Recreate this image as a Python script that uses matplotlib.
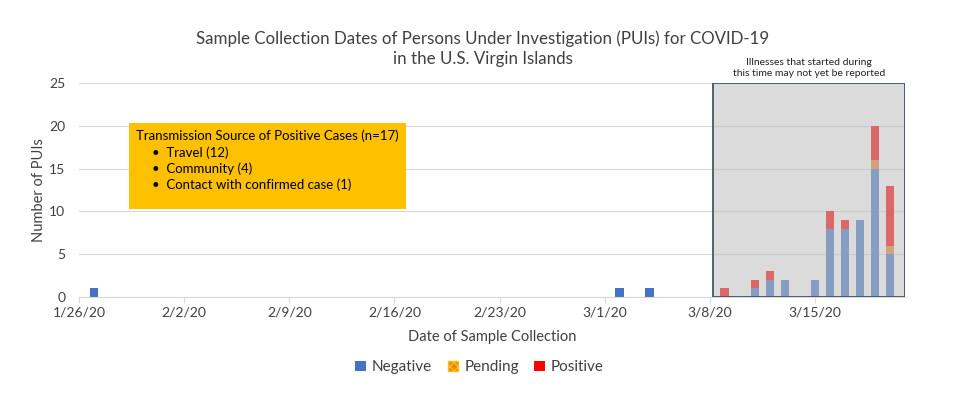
import pandas as pd
import matplotlib
matplotlib.use("Agg")
import matplotlib.pyplot as plt
import matplotlib.dates as mdates
from matplotlib.patches import Patch, Rectangle

plt.rcParams['font.family'] = ['Lato', 'DejaVu Sans']

# PUIs by sample collection date
dates = ["2020-01-27", "2020-03-02", "2020-03-04", "2020-03-09", "2020-03-11",
         "2020-03-12", "2020-03-13", "2020-03-15", "2020-03-16", "2020-03-17",
         "2020-03-18", "2020-03-19", "2020-03-20"]
negative = [1, 1, 1, 0, 1, 2, 2, 2, 8, 8, 9, 15, 5]
pending = [0, 0, 0, 0, 0, 0, 0, 0, 0, 0, 0, 1, 1]
positive = [0, 0, 0, 1, 1, 1, 0, 0, 2, 1, 0, 4, 7]

x_start = "2020-01-26"
x_end = "2020-03-21"
shade_start = "2020-03-08 05:00"

x = pd.to_datetime(dates)
pend_bottom = negative
pos_bottom = [n + p for n, p in zip(negative, pending)]

fig = plt.figure(figsize=(9.65, 3.95), dpi=100)
ax = fig.add_axes([0.0819, 0.2481, 0.8559, 0.5418])

w = 0.57
ax.bar(x, negative, width=w, color="#4472C4", zorder=2)
ax.bar(x, pending, width=w, bottom=pend_bottom, color="#ED7D31", zorder=2)
ax.bar(x, positive, width=w, bottom=pos_bottom, color="#FF0000", zorder=2)

# grey "not yet reported" box over the last days
x0 = mdates.date2num(pd.Timestamp(shade_start))
x1 = mdates.date2num(pd.Timestamp(x_end))
ax.add_patch(Rectangle((x0, 0), x1 - x0, 25, facecolor="#BFBFBF", alpha=0.55,
                       edgecolor="none", zorder=3))
ax.add_patch(Rectangle((x0, 0), x1 - x0, 25, facecolor="none",
                       edgecolor="#44546A", linewidth=1.3, zorder=4))
ax.text((x0 + x1) / 2, 25.6, "Illnesses that started during\nthis time may not yet be reported",
        ha="center", va="bottom", fontsize=7.5, color="#222222", linespacing=1.3)

ax.set_xlim(pd.Timestamp(x_start), pd.Timestamp(x_end))
ax.set_ylim(0, 25)
ax.set_yticks(range(0, 26, 5))
ax.set_xticks(pd.date_range(x_start, "2020-03-15", freq="7D"))
ax.xaxis.set_major_formatter(mdates.DateFormatter("%-m/%-d/%y"))
ax.grid(axis="y", color="#D9D9D9", linewidth=0.8, zorder=0)
for s in ["top", "right", "left"]:
    ax.spines[s].set_visible(False)
ax.spines["bottom"].set_color("#D9D9D9")
ax.tick_params(axis="y", length=0, labelsize=10, colors="#404040", pad=10)
ax.tick_params(axis="x", length=4, color="#D9D9D9", labelsize=10, colors="#404040", pad=3)

ax.set_ylabel("Number of PUIs", fontsize=10.5, color="#404040", labelpad=2)
ax.set_xlabel("Date of Sample Collection", fontsize=10.5, color="#404040", labelpad=8)
fig.text(0.5, 0.903, "Sample Collection Dates of Persons Under Investigation (PUIs) for COVID-19",
         ha="center", va="center", fontsize=12.2, color="#404040")
fig.text(0.5, 0.851, "in the U.S. Virgin Islands",
         ha="center", va="center", fontsize=12.2, color="#404040")

# yellow info box
ax.add_patch(Rectangle((0.06, 0.411), 0.336, 0.402, transform=ax.transAxes,
                       facecolor="#FFC000", edgecolor="none", zorder=5))
ax.text(0.069, 0.752, "Transmission Source of Positive Cases (n=17)", transform=ax.transAxes,
        fontsize=9.5, va="center", zorder=6)
bullets = ["Travel (12)", "Community (4)", "Contact with confirmed case (1)"]
for i, b in enumerate(bullets):
    ax.text(0.088, 0.673 - i * 0.075, "\u2022  " + b, transform=ax.transAxes,
            fontsize=9.5, va="center", zorder=6)

handles = [Patch(facecolor="#4472C4", label="Negative"),
           Patch(facecolor="#ED7D31", edgecolor="#FFC000", hatch="xxxx", label="Pending"),
           Patch(facecolor="#FF0000", label="Positive")]
fig.legend(handles=handles, loc="center", bbox_to_anchor=(0.497, 0.07), ncol=3,
           frameon=False, fontsize=11, handlelength=0.7, handleheight=0.7,
           columnspacing=1.0, handletextpad=0.4, labelcolor="#404040")

fig.savefig("out.png", dpi=100)
